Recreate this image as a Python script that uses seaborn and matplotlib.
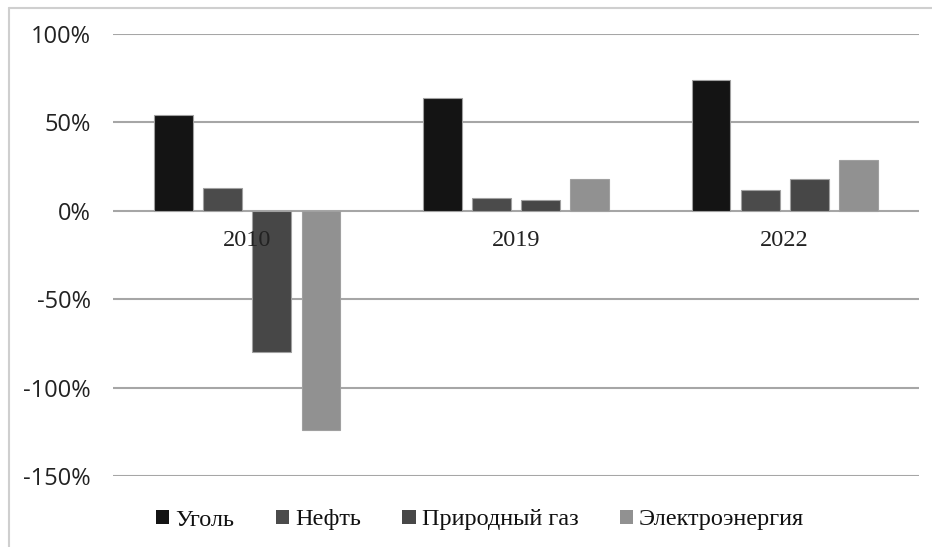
import matplotlib
matplotlib.use("Agg")
import matplotlib.pyplot as plt
import seaborn as sns
import pandas as pd
from matplotlib.ticker import FuncFormatter
from matplotlib.lines import Line2D

years = ["2010", "2019", "2022"]
sources = ["Уголь", "Нефть", "Природный газ", "Электроэнергия"]
coal = [54, 64, 74]
oil = [13, 7, 12]
gas = [-80, 6, 18]
electricity = [-124, 18, 29]
y_ticks = [100, 50, 0, -50, -100, -150]
colors = ["#141414", "#4b4b4b", "#474747", "#919191"]

rows = []
for src, vals in zip(sources, [coal, oil, gas, electricity]):
    for yr, v in zip(years, vals):
        rows.append({"year": yr, "source": src, "value": v})
df = pd.DataFrame(rows)

sns.set_theme(style="white")
plt.rcParams["axes.unicode_minus"] = False

fig = plt.figure(figsize=(9.32, 5.47), dpi=100)
ax = fig.add_axes([113/932, 1-476/547, (919-113)/932, (476-34)/547])

for yv in y_ticks:
    ax.axhline(yv, color="#a6a6a6", linewidth=1.5, zorder=0.5)

sns.barplot(data=df, x="year", y="value", hue="source", order=years,
            hue_order=sources, palette=colors, width=0.73, gap=0.21,
            edgecolor="#a0a0a0", linewidth=0.8, ax=ax, legend=True, zorder=1)

ax.set_xlim(-0.5, 2.5)
ax.set_ylim(-150, 100)
ax.set_yticks(y_ticks)
ax.yaxis.set_major_formatter(FuncFormatter(lambda v, p: f"{int(round(v))}%"))
ax.grid(False)
ax.set_axisbelow(False)
for s in ax.spines.values():
    s.set_visible(False)
ax.spines["bottom"].set_position(("data", 0))
ax.set_xlabel("")
ax.set_ylabel("")
ax.tick_params(axis="x", length=0, pad=14)
ax.tick_params(axis="y", length=0, pad=16)
for lab in ax.get_yticklabels():
    lab.set_family("Open Sans")
    lab.set_fontsize(17)
    lab.set_color("#222222")
for lab in ax.get_xticklabels():
    lab.set_family("Liberation Serif")
    lab.set_fontsize(17.5)
    lab.set_color("#222222")

handles, labels = ax.get_legend_handles_labels()
ax.legend_.remove()
leg = fig.legend(handles, labels, loc="center", bbox_to_anchor=(480/932, 1-520/547),
                 ncol=4, frameon=False, handlelength=0.55, handleheight=0.55,
                 handletextpad=0.25, columnspacing=1.7,
                 prop={"family": "Liberation Serif", "size": 17.5})
for h in leg.legend_handles:
    h.set_edgecolor("none")
for t in leg.get_texts():
    t.set_color("#111111")

fig.add_artist(Line2D([9/932, 9/932], [0, 1-8/547], color="#cfcfcf", linewidth=1.5))
fig.add_artist(Line2D([9/932, 1], [1-8/547, 1-8/547], color="#cfcfcf", linewidth=1.5))

fig.savefig("out.png", dpi=100, facecolor="white")
